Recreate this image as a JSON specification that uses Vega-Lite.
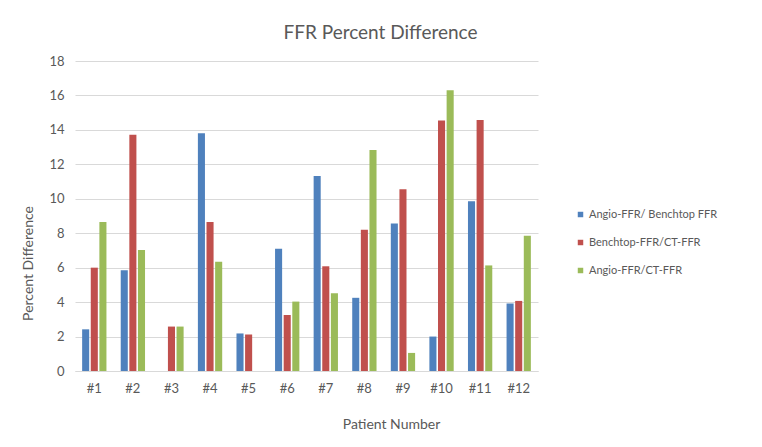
{
  "$schema": "https://vega.github.io/schema/vega-lite/v6.json",
  "width": 463,
  "height": 310,
  "autosize": {"type": "none"},
  "padding": {"left": 75, "top": 61, "right": 224, "bottom": 76},
  "background": "white",
  "title": {
    "text": "FFR Percent Difference",
    "font": "Lato",
    "fontSize": 19,
    "fontWeight": "normal",
    "color": "#595959",
    "anchor": "middle",
    "dx": 74,
    "offset": 12
  },
  "data": {
    "values": [
      {"patient": "#1", "series": "Angio-FFR/ Benchtop FFR", "value": 2.42},
      {"patient": "#1", "series": "Benchtop-FFR/CT-FFR", "value": 6.0},
      {"patient": "#1", "series": "Angio-FFR/CT-FFR", "value": 8.65},
      {"patient": "#2", "series": "Angio-FFR/ Benchtop FFR", "value": 5.85},
      {"patient": "#2", "series": "Benchtop-FFR/CT-FFR", "value": 13.72},
      {"patient": "#2", "series": "Angio-FFR/CT-FFR", "value": 7.03},
      {"patient": "#3", "series": "Angio-FFR/ Benchtop FFR", "value": 0},
      {"patient": "#3", "series": "Benchtop-FFR/CT-FFR", "value": 2.58},
      {"patient": "#3", "series": "Angio-FFR/CT-FFR", "value": 2.58},
      {"patient": "#4", "series": "Angio-FFR/ Benchtop FFR", "value": 13.8},
      {"patient": "#4", "series": "Benchtop-FFR/CT-FFR", "value": 8.65},
      {"patient": "#4", "series": "Angio-FFR/CT-FFR", "value": 6.35},
      {"patient": "#5", "series": "Angio-FFR/ Benchtop FFR", "value": 2.18},
      {"patient": "#5", "series": "Benchtop-FFR/CT-FFR", "value": 2.12},
      {"patient": "#5", "series": "Angio-FFR/CT-FFR", "value": 0},
      {"patient": "#6", "series": "Angio-FFR/ Benchtop FFR", "value": 7.1},
      {"patient": "#6", "series": "Benchtop-FFR/CT-FFR", "value": 3.25},
      {"patient": "#6", "series": "Angio-FFR/CT-FFR", "value": 4.03},
      {"patient": "#7", "series": "Angio-FFR/ Benchtop FFR", "value": 11.32},
      {"patient": "#7", "series": "Benchtop-FFR/CT-FFR", "value": 6.08},
      {"patient": "#7", "series": "Angio-FFR/CT-FFR", "value": 4.52},
      {"patient": "#8", "series": "Angio-FFR/ Benchtop FFR", "value": 4.25},
      {"patient": "#8", "series": "Benchtop-FFR/CT-FFR", "value": 8.2},
      {"patient": "#8", "series": "Angio-FFR/CT-FFR", "value": 12.83},
      {"patient": "#9", "series": "Angio-FFR/ Benchtop FFR", "value": 8.57},
      {"patient": "#9", "series": "Benchtop-FFR/CT-FFR", "value": 10.55},
      {"patient": "#9", "series": "Angio-FFR/CT-FFR", "value": 1.05},
      {"patient": "#10", "series": "Angio-FFR/ Benchtop FFR", "value": 2.0},
      {"patient": "#10", "series": "Benchtop-FFR/CT-FFR", "value": 14.55},
      {"patient": "#10", "series": "Angio-FFR/CT-FFR", "value": 16.3},
      {"patient": "#11", "series": "Angio-FFR/ Benchtop FFR", "value": 9.85},
      {"patient": "#11", "series": "Benchtop-FFR/CT-FFR", "value": 14.57},
      {"patient": "#11", "series": "Angio-FFR/CT-FFR", "value": 6.13},
      {"patient": "#12", "series": "Angio-FFR/ Benchtop FFR", "value": 3.92},
      {"patient": "#12", "series": "Benchtop-FFR/CT-FFR", "value": 4.07},
      {"patient": "#12", "series": "Angio-FFR/CT-FFR", "value": 7.85}
    ]
  },
  "mark": {"type": "bar"},
  "encoding": {
    "x": {
      "field": "patient",
      "type": "nominal",
      "sort": null,
      "scale": {"paddingInner": 0.37, "paddingOuter": 0.185},
      "axis": {
        "labelAngle": 0,
        "ticks": false,
        "domainColor": "#D9D9D9",
        "labelPadding": 11,
        "labelFont": "Lato",
        "labelFontSize": 13,
        "labelColor": "#595959",
        "title": "Patient Number",
        "titleFont": "Lato",
        "titleFontSize": 14,
        "titleFontWeight": "normal",
        "titleColor": "#595959",
        "titleX": 316,
        "titleY": 53,
        "titleAlign": "center",
        "titleBaseline": "middle"
      }
    },
    "xOffset": {
      "field": "series",
      "type": "nominal",
      "sort": ["Angio-FFR/ Benchtop FFR", "Benchtop-FFR/CT-FFR", "Angio-FFR/CT-FFR"],
      "scale": {"paddingInner": 0.18, "paddingOuter": 0}
    },
    "y": {
      "field": "value",
      "type": "quantitative",
      "scale": {"domain": [0, 18], "nice": false},
      "axis": {
        "values": [0, 2, 4, 6, 8, 10, 12, 14, 16, 18],
        "domain": false,
        "ticks": false,
        "gridColor": "#D9D9D9",
        "labelPadding": 11,
        "labelFont": "Lato",
        "labelFontSize": 13,
        "labelColor": "#595959",
        "title": "Percent Difference",
        "titleFont": "Lato",
        "titleFontSize": 14,
        "titleFontWeight": "normal",
        "titleColor": "#595959",
        "titleAngle": -90,
        "titleX": -47,
        "titleY": 202,
        "titleAlign": "center",
        "titleBaseline": "middle"
      }
    },
    "color": {
      "field": "series",
      "type": "nominal",
      "scale": {
        "domain": ["Angio-FFR/ Benchtop FFR", "Benchtop-FFR/CT-FFR", "Angio-FFR/CT-FFR"],
        "range": ["#4F81BD", "#C0504D", "#9BBB59"]
      },
      "legend": {
        "title": null,
        "orient": "none",
        "legendX": 500,
        "legendY": 148,
        "symbolType": "square",
        "symbolSize": 30,
        "symbolStrokeWidth": 0,
        "labelFont": "Lato",
        "labelFontSize": 11,
        "labelColor": "#595959",
        "labelOffset": 3,
        "rowPadding": 16
      }
    }
  },
  "config": {
    "view": {"stroke": null}
  }
}
